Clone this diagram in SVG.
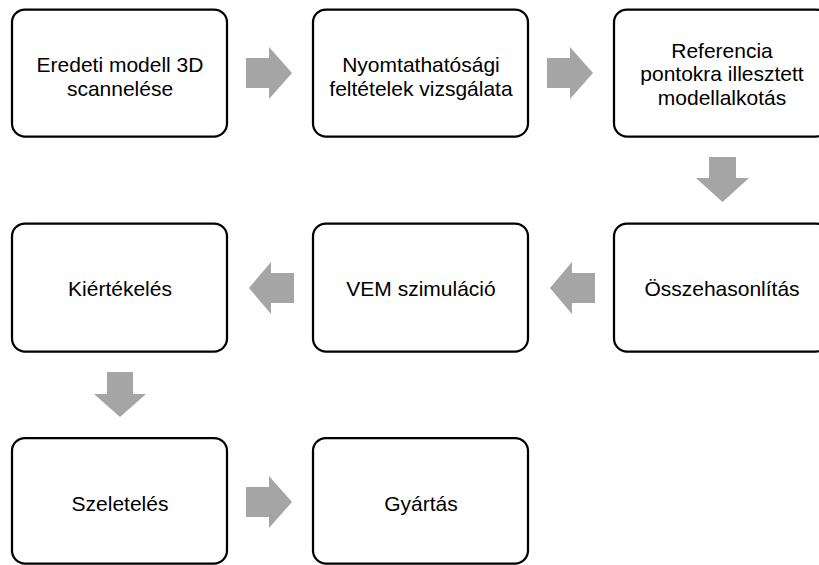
<svg xmlns="http://www.w3.org/2000/svg" width="819" height="565" viewBox="0 0 819 565">
<style>
.box{fill:#fff;stroke:#000;stroke-width:2.25}
.lbl{font-family:"Liberation Sans",Arial,sans-serif;font-size:21px;fill:#000;text-anchor:middle}
.arr{fill:#a5a5a5;stroke:none}
</style>
<rect width="819" height="565" fill="#fff"/>
<g id="connectors">
<polygon class="arr" points="246,58 269,58 269,47 292,73 269,99 269,88 246,88"/>
<polygon class="arr" points="547,58 570,58 570,47 593,73 570,99 570,88 547,88"/>
<polygon class="arr" points="709,157 736,157 736,178 749,178 722.5,202 696,178 709,178"/>
<polygon class="arr" points="595,273 572,273 572,262 550,288 572,314 572,303 595,303"/>
<polygon class="arr" points="294,273 271,273 271,262 249,288 271,314 271,303 294,303"/>
<polygon class="arr" points="107,372 133,372 133,394 146,394 120,417 94,394 107,394"/>
<polygon class="arr" points="246,487 269,487 269,476 292,502 269,528 269,517 246,517"/>
</g>
<g id="n1"><rect class="box" x="12" y="9.5" width="215" height="127" rx="13"/><text class="lbl" x="120" y="72">Eredeti modell 3D</text><text class="lbl" x="120" y="95.5">scannelése</text></g>
<g id="n2"><rect class="box" x="313" y="9.5" width="215" height="127" rx="13"/><text class="lbl" x="421" y="72">Nyomtathatósági</text><text class="lbl" x="421" y="95.5">feltételek vizsgálata</text></g>
<g id="n3"><rect class="box" x="614" y="9.5" width="215" height="127" rx="13"/><text class="lbl" x="722" y="57.5">Referencia</text><text class="lbl" x="722" y="81">pontokra illesztett</text><text class="lbl" x="722" y="104.5">modellalkotás</text></g>
<g id="n4"><rect class="box" x="614" y="223.5" width="215" height="128" rx="13"/><text class="lbl" x="722" y="296">Összehasonlítás</text></g>
<g id="n5"><rect class="box" x="313" y="223.5" width="215" height="128" rx="13"/><text class="lbl" x="421" y="296">VEM szimuláció</text></g>
<g id="n6"><rect class="box" x="12" y="223.5" width="215" height="128" rx="13"/><text class="lbl" x="120" y="296">Kiértékelés</text></g>
<g id="n7"><rect class="box" x="12" y="438" width="215" height="125.5" rx="13"/><text class="lbl" x="120" y="511">Szeletelés</text></g>
<g id="n8"><rect class="box" x="313" y="438" width="215" height="125.5" rx="13"/><text class="lbl" x="421" y="511">Gyártás</text></g>
</svg>
